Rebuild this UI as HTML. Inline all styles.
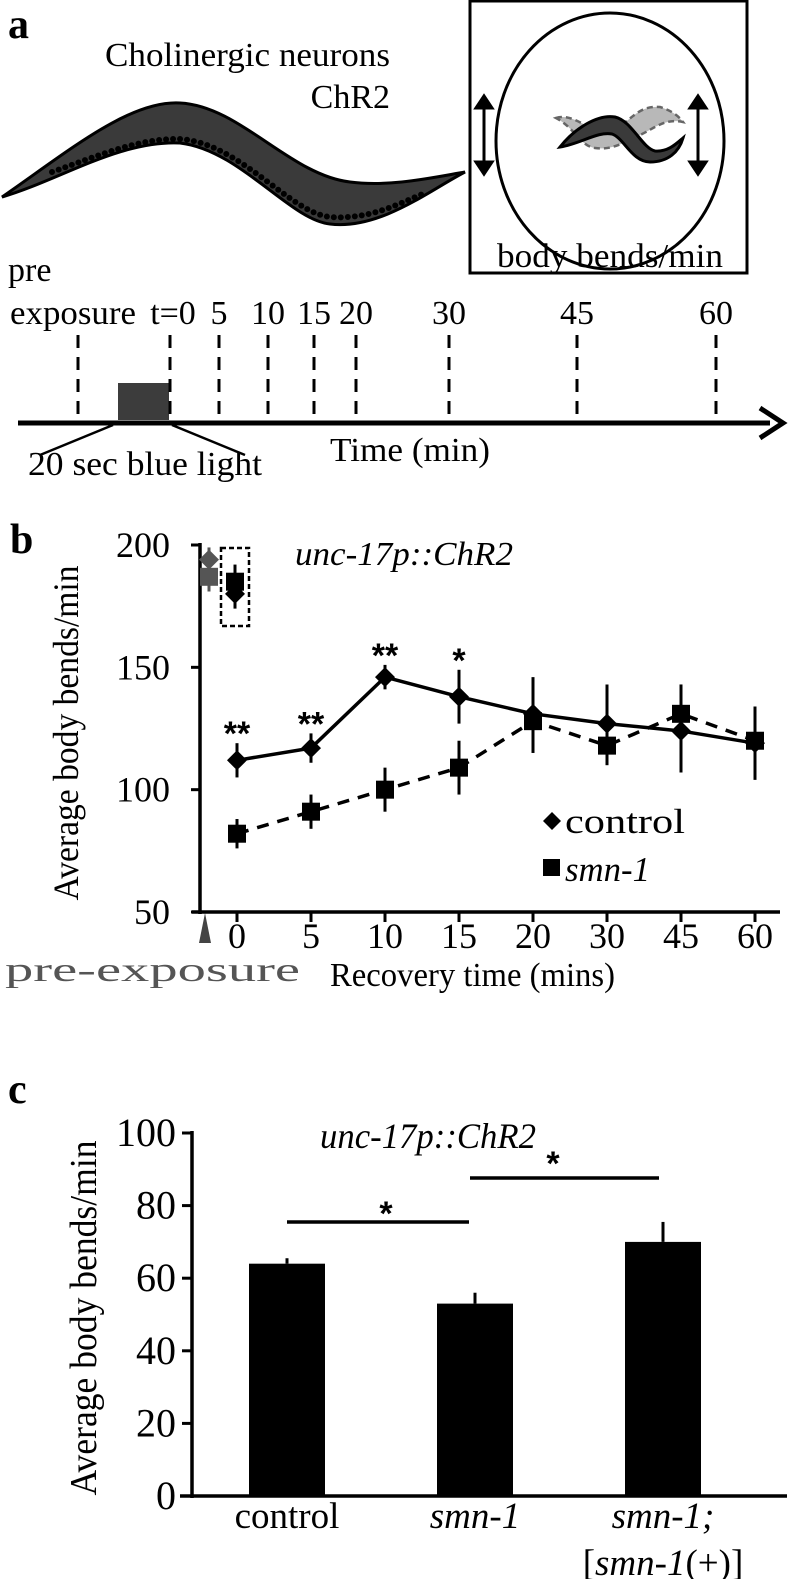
<!DOCTYPE html>
<html><head><meta charset="utf-8"><style>
html,body{margin:0;padding:0;background:#fff;}
svg{display:block;}
</style></head><body>
<svg id="fig" width="789" height="1579" viewBox="0 0 789 1579" xmlns="http://www.w3.org/2000/svg" font-family="'Liberation Serif', 'Times New Roman', serif">
<!-- Panel a -->
<g>
<text x="8" y="38" font-size="42" font-weight="bold">a</text>
<text x="105" y="66" font-size="34" textLength="285" lengthAdjust="spacingAndGlyphs">Cholinergic neurons</text>
<text x="390" y="108" font-size="34" text-anchor="end">ChR2</text>
<path d="M2,197 C70,150 130,100 180,103 C240,106 290,175 350,182 C390,187 430,178 465,172 C430,190 380,230 330,224 C290,220 240,150 180,143 C120,140 60,180 2,197 Z" fill="#3a3a3a" stroke="#000" stroke-width="3"/>
<path d="M52,172 C100,155 140,138 180,139 C240,143 290,213 330,217 C370,220 400,203 425,193" fill="none" stroke="#000" stroke-width="6" stroke-linecap="round" stroke-dasharray="0 7"/>
<rect x="470" y="1" width="277" height="272" fill="none" stroke="#000" stroke-width="3"/>
<ellipse cx="610" cy="141" rx="114" ry="128" fill="none" stroke="#000" stroke-width="3"/>
<path d="M556,118 C575,112 590,135 610,130 C630,125 635,105 660,107 C670,110 678,115 683,122 C665,118 655,128 640,135 C620,145 610,150 595,148 C580,146 575,128 556,118 Z" fill="#b8b8b8" stroke="#666" stroke-width="2.5" stroke-dasharray="6 4"/>
<path d="M560,147 C575,128 598,114 615,117 C632,121 642,148 655,151 C668,152 676,144 683,138 C679,152 668,162 650,162 C632,162 624,138 612,134 C598,131 580,144 560,147 Z" fill="#3a3a3a" stroke="#000" stroke-width="3"/>
<g stroke="#000" stroke-width="3">
<line x1="484" y1="106" x2="484" y2="164"/><path d="M476,108 L484,96 L492,108 Z M476,162 L484,174 L492,162 Z" fill="#000"/>
<line x1="698" y1="106" x2="698" y2="164"/><path d="M690,108 L698,96 L706,108 Z M690,162 L698,174 L706,162 Z" fill="#000"/>
</g>
<text x="610" y="267" font-size="34" text-anchor="middle" textLength="226" lengthAdjust="spacingAndGlyphs">body bends/min</text>
<text x="8" y="281" font-size="34">pre</text>
<text x="10" y="324" font-size="34" textLength="126" lengthAdjust="spacingAndGlyphs">exposure</text>
<rect x="118" y="383" width="51" height="37" fill="#3c3c3c"/>
<g id="tl-ticks"></g>
<line x1="18" y1="423" x2="770" y2="423" stroke="#000" stroke-width="5"/>
<path d="M760,408 L783,423 L760,438" fill="none" stroke="#000" stroke-width="5"/>
<line x1="113" y1="425" x2="40" y2="455" stroke="#000" stroke-width="2.5"/>
<line x1="172" y1="425" x2="245" y2="455" stroke="#000" stroke-width="2.5"/>
<text x="28" y="475" font-size="34" textLength="234" lengthAdjust="spacingAndGlyphs">20 sec blue light</text>
<text x="330" y="461" font-size="34" textLength="160" lengthAdjust="spacingAndGlyphs">Time (min)</text>
</g>
<!-- Panel b -->
<g id="pb">
<text x="10" y="553" font-size="42" font-weight="bold">b</text>
<text transform="translate(78,733) rotate(-90)" font-size="36" text-anchor="middle" textLength="335" lengthAdjust="spacingAndGlyphs">Average body bends/min</text>
<text x="295" y="565" font-size="34" font-style="italic" textLength="218" lengthAdjust="spacingAndGlyphs">unc-17p::ChR2</text>
<text x="5" y="981" font-size="34" fill="#555" textLength="295" lengthAdjust="spacingAndGlyphs">pre-exposure</text>
<text x="330" y="986" font-size="34" textLength="285" lengthAdjust="spacingAndGlyphs">Recovery time (mins)</text>
<path d="M199,943 L205,913 L211,943 Z" fill="#444"/>
<rect x="221" y="548" width="28" height="78" fill="none" stroke="#000" stroke-width="2.5" stroke-dasharray="5 3"/>
<path d="M552,812 L561,821 L552,830 L543,821 Z" fill="#000"/>
<text x="565" y="833" font-size="35" textLength="120" lengthAdjust="spacingAndGlyphs">control</text>
<rect x="543" y="859" width="17" height="17" fill="#000"/>
<text x="565" y="881" font-size="35" font-style="italic" textLength="85" lengthAdjust="spacingAndGlyphs">smn-1</text>
</g>
<!-- Panel c -->
<g id="pc">
<text x="8" y="1103" font-size="42" font-weight="bold">c</text>
<text transform="translate(96,1318) rotate(-90)" font-size="38" text-anchor="middle" textLength="355" lengthAdjust="spacingAndGlyphs">Average body bends/min</text>
<text x="320" y="1148" font-size="36" font-style="italic" textLength="216" lengthAdjust="spacingAndGlyphs">unc-17p::ChR2</text>
</g>
</svg>
<script>
// ---- Panel a timeline data
const tlLabels = ["t=0","5","10","15","20","30","45","60"];
const tlMinutes = [0,5,10,15,20,30,45,60];
// ---- Panel b data
const bCats = ["0","5","10","15","20","30","45","60"];
const bControl = [112,117,146,138,131,127,124,119];
const bControlErr = [7,6,5,11,15,16,17,15];
const bSmn = [82,91,100,109,128,118,131,120];
const bSmnErr = [6,7,9,11,13,8,12,12];
const bPreControl = 194, bPreControlErr = 5;
const bPreSmn = 187, bPreSmnErr = 6;
const bBoxSmn = 185, bBoxSmnErr = 7;
const bBoxControl = 180, bBoxControlErr = 6;
const bYTicks = [50,100,150,200];
const bStars = ["**","**","**","*","","","",""];
// ---- Panel c data
const cCats = ["control","smn-1","smn-1;"];
const cVals = [64,53,70];
const cErr = [1.5,3,5.5];
const cYTicks = [0,20,40,60,80,100];

const NS="http://www.w3.org/2000/svg";
function mk(tag,attrs,parent,txt){const e=document.createElementNS(NS,tag);for(const k in attrs)e.setAttribute(k,attrs[k]);if(txt!==undefined)e.textContent=txt;parent.appendChild(e);return e;}

const tlX = [170,219,268,314,356,449,577,716];
const tlG=document.getElementById('tl-ticks');
const preDash = mk('line',{x1:78,y1:335,x2:78,y2:420,stroke:'#000','stroke-width':3,'stroke-dasharray':'13 9'},tlG);


tlMinutes.forEach((m,i)=>{
  const l=mk('line',{x1:tlX[i],y1:335,x2:tlX[i],y2:420,stroke:'#000','stroke-width':3,'stroke-dasharray':'13 9'},tlG);
  
  
  const t=mk('text',{x:i===0?tlX[i]+3:tlX[i],y:324,'font-size':34,'text-anchor':'middle'},tlG,tlLabels[i]);
  
  
});

const pb=document.getElementById('pb');
const bx0=200, bAxisY=912;
function by(v){return 912-(v-50)*(912-545)/150;}
function bxc(i){return 237+i*74;}
const yAx=mk('line',{x1:bx0,y1:543,x2:bx0,y2:bAxisY+2,stroke:'#000','stroke-width':3.5},pb);


const xAx=mk('line',{x1:bx0-8,y1:bAxisY,x2:780,y2:bAxisY,stroke:'#000','stroke-width':3.5},pb);


bYTicks.forEach(v=>{
  const tk=mk('line',{x1:bx0-9,y1:by(v),x2:bx0,y2:by(v),stroke:'#000','stroke-width':3},pb);
  
  
  const t=mk('text',{x:170,y:by(v)+12,'font-size':36,'text-anchor':'end'},pb,String(v));
  
  
});
bCats.forEach((c,i)=>{
  const tk=mk('line',{x1:bxc(i),y1:bAxisY,x2:bxc(i),y2:bAxisY+10,stroke:'#000','stroke-width':3},pb);
  
  
  const t=mk('text',{x:bxc(i),y:948,'font-size':36,'text-anchor':'middle'},pb,c);
  
  
});
function pts(arr){return arr.map((v,i)=>bxc(i)+','+by(v)).join(' ');}
const lSmn=mk('polyline',{points:pts(bSmn),fill:'none',stroke:'#000','stroke-width':3.5,'stroke-dasharray':'12 9'},pb);


const lCtl=mk('polyline',{points:pts(bControl),fill:'none',stroke:'#000','stroke-width':3.5},pb);


function errbar(x,v,e,col,name){const l=mk('line',{x1:x,y1:by(v+e),x2:x,y2:by(v-e),stroke:col,'stroke-width':3},pb);}
function diamond(x,v,col,name){const y=by(v);const p=mk('path',{d:`M${x},${y-10} L${x+10},${y} L${x},${y+10} L${x-10},${y} Z`,fill:col},pb);}
function square(x,v,col,name){const y=by(v);const r=mk('rect',{x:x-9,y:y-9,width:18,height:18,fill:col},pb);}
bSmn.forEach((v,i)=>{errbar(bxc(i),v,bSmnErr[i],'#000','smn-1-error-bar');square(bxc(i),v,'#000','smn-1-point');});
bControl.forEach((v,i)=>{errbar(bxc(i),v,bControlErr[i],'#000','control-error-bar');diamond(bxc(i),v,'#000','control-point');});
errbar(209,bPreSmn,bPreSmnErr,'#555','pre-smn-1-error-bar');square(209,bPreSmn,'#555','pre-smn-1-point');
errbar(209,bPreControl,bPreControlErr,'#555','pre-control-error-bar');diamond(209,bPreControl,'#555','pre-control-point');
errbar(235,bBoxSmn,bBoxSmnErr,'#000','box-smn-1-error-bar');square(235,bBoxSmn,'#000','box-smn-1-point');
errbar(235,bBoxControl,bBoxControlErr,'#000','box-control-error-bar');diamond(235,bBoxControl,'#000','box-control-point');
bStars.forEach((s,i)=>{ if(!s)return;
  const top=by(bControl[i]+bControlErr[i]);
  const t=mk('text',{x:bxc(i),y:top+2,'font-size':34,'font-weight':'bold','text-anchor':'middle','font-family':'Liberation Sans, sans-serif'},pb,s);
  
  
});

const pc=document.getElementById('pc');
const cx0=192, c0=1496, c100=1133;
function cy(v){return c0-v*(c0-c100)/100;}
function cxc(i){return 287+i*188;}
const cyAx=mk('line',{x1:cx0,y1:c100-2,x2:cx0,y2:c0+2,stroke:'#000','stroke-width':3.5},pc);


const cxAx=mk('line',{x1:180,y1:c0,x2:787,y2:c0,stroke:'#000','stroke-width':3.5},pc);


cYTicks.forEach(v=>{
  const tk=mk('line',{x1:cx0-10,y1:cy(v),x2:cx0,y2:cy(v),stroke:'#000','stroke-width':3},pc);
  
  
  const t=mk('text',{x:176,y:cy(v)+13,'font-size':40,'text-anchor':'end'},pc,String(v));
  
  
});
cVals.forEach((v,i)=>{
  const x=cxc(i);
  const el=mk('line',{x1:x,y1:cy(v+cErr[i]),x2:x,y2:cy(v),stroke:'#000','stroke-width':3},pc);
  
  
  const r=mk('rect',{x:x-38,y:cy(v),width:76,height:c0-cy(v),fill:'#000'},pc);
  
  
});
const cl0=mk('text',{x:cxc(0),y:1528,'font-size':37,'text-anchor':'middle'},pc,cCats[0]);


const cl1=mk('text',{x:cxc(1),y:1528,'font-size':37,'text-anchor':'middle','font-style':'italic'},pc,cCats[1]);


const cl2=mk('text',{x:cxc(2),y:1528,'font-size':37,'text-anchor':'middle','font-style':'italic'},pc,cCats[2]);


const cl3=mk('text',{x:cxc(2),y:1575,'font-size':37,'text-anchor':'middle'},pc);


cl3.innerHTML='[<tspan font-style="italic">smn-1</tspan>(+)]';
const s1=mk('line',{x1:cxc(0),y1:1222,x2:cxc(1)-6,y2:1222,stroke:'#000','stroke-width':3.5},pc);


const s2=mk('line',{x1:cxc(1)-5,y1:1178,x2:cxc(2)-4,y2:1178,stroke:'#000','stroke-width':3.5},pc);


const st1=mk('text',{x:386,y:1225,'font-size':34,'font-weight':'bold','text-anchor':'middle','font-family':'Liberation Sans, sans-serif'},pc,'*');


const st2=mk('text',{x:553,y:1175,'font-size':34,'font-weight':'bold','text-anchor':'middle','font-family':'Liberation Sans, sans-serif'},pc,'*');


</script>
</body></html>
